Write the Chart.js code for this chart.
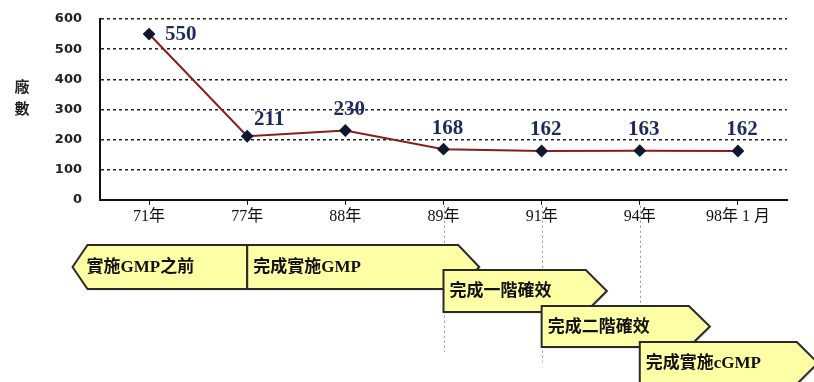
<!DOCTYPE html>
<html>
<head>
<meta charset="utf-8">
<script src="https://cdn.jsdelivr.net/npm/chart.js@4"></script>
<style>
  html, body { margin: 0; padding: 0; background: #fff; }
  #wrap { width: 814px; height: 382px; }
</style>
</head>
<body>
<div id="wrap"><canvas id="chart" width="814" height="382"></canvas></div>
<script>
// data
const years = ["71年", "77年", "88年", "89年", "91年", "94年", "98年 1 月"];
const plantCounts = [550, 211, 230, 168, 162, 163, 162];
const yTicks = [0, 100, 200, 300, 400, 500, 600];
const axisTitle = ["廠", "數"];
// phase banners: label, start index, end index (in category units)
const phaseLabels = ["實施GMP之前", "完成實施GMP", "完成一階確效", "完成二階確效", "完成實施cGMP"];
const phaseStart = [-0.78, 1, 3, 4, 5];
const phaseEnd = [1, 3.15, 4.45, 5.5, 6.6];

const cjkSerif = "'Liberation Serif', 'Noto Sans CJK TC', serif";

// draws value labels, the y title, the guide lines and the phase banners
const extras = {
  id: "extras",
  afterDatasetsDraw(chart) {
    const ctx = chart.ctx;
    const x = chart.scales.x, y = chart.scales.y;
    ctx.save();
    // value labels
    ctx.font = "bold 21px 'Liberation Serif', serif";
    ctx.fillStyle = "#1f2a5c";
    ctx.textBaseline = "middle";
    plantCounts.forEach((v, i) => {
      const px = x.getPixelForValue(i), py = y.getPixelForValue(v);
      if (i === 0) {
        ctx.textAlign = "left";
        ctx.fillText(String(v), px + 16, py + 1);
      } else if (i === 1) {
        ctx.textAlign = "center";
        ctx.fillText(String(v), px + 22, py - 17);
      } else {
        ctx.textAlign = "center";
        ctx.fillText(String(v), px + 4, py - 21);
      }
    });
    ctx.restore();
  },
  afterDraw(chart) {
    const ctx = chart.ctx;
    const x = chart.scales.x, y = chart.scales.y;
    ctx.save();
    // y title, stacked characters
    ctx.font = "bold 15px 'Noto Sans CJK TC', serif";
    ctx.fillStyle = "#222";
    ctx.textAlign = "center";
    ctx.textBaseline = "middle";
    axisTitle.forEach((c, i) => ctx.fillText(c, 22, 86 + i * 22));

    // grey dotted guides below the axis
    ctx.strokeStyle = "#999";
    ctx.lineWidth = 1;
    ctx.setLineDash([2, 3]);
    const guideBottom = [352, 362, 382];
    [3, 4, 5].forEach((idx, k) => {
      const gx = Math.round(x.getPixelForValue(idx)) + 0.5;
      ctx.beginPath();
      ctx.moveTo(gx, y.bottom + 6);
      ctx.lineTo(gx, guideBottom[k]);
      ctx.stroke();
    });
    ctx.setLineDash([]);

    // phase banners
    const rows = [[245, 289], [245, 289], [270, 312], [306, 347], [342, 384]];
    const pos = v => x.getPixelForValue(0) + v * (x.getPixelForValue(1) - x.getPixelForValue(0));
    ctx.font = "bold 17px " + cjkSerif;
    ctx.textAlign = "left";
    ctx.textBaseline = "middle";
    phaseLabels.forEach((label, i) => {
      const [top, bot] = rows[i];
      const mid = (top + bot) / 2;
      const x0 = pos(phaseStart[i]), x1 = pos(phaseEnd[i]);
      const tip = 21;
      ctx.beginPath();
      if (i === 0) {
        ctx.moveTo(x0, mid);
        ctx.lineTo(x0 + 15, top);
        ctx.lineTo(x1, top);
        ctx.lineTo(x1, bot);
        ctx.lineTo(x0 + 15, bot);
      } else {
        ctx.moveTo(x0, top);
        ctx.lineTo(x1, top);
        ctx.lineTo(x1 + tip, mid);
        ctx.lineTo(x1, bot);
        ctx.lineTo(x0, bot);
      }
      ctx.closePath();
      ctx.shadowColor = "rgba(0,0,0,0.25)";
      ctx.shadowOffsetX = 1;
      ctx.shadowOffsetY = 1;
      ctx.shadowBlur = 2;
      ctx.fillStyle = "#ffffa6";
      ctx.fill();
      ctx.shadowColor = "transparent";
      ctx.strokeStyle = "#2a2a2a";
      ctx.lineWidth = 2;
      ctx.stroke();
      ctx.fillStyle = "#111";
      ctx.fillText(label, (i === 0 ? x0 + 14 : x0 + 6), mid + 1);
    });
    ctx.restore();
  }
};

new Chart(document.getElementById("chart"), {
  type: "line",
  data: {
    labels: years,
    datasets: [{
      data: plantCounts,
      borderColor: "#8b1c1c",
      borderWidth: 2,
      pointStyle: "rectRot",
      pointRadius: 5,
      pointBackgroundColor: "#101830",
      pointBorderColor: "#101830",
      tension: 0
    }]
  },
  options: {
    responsive: false,
    animation: false,
    layout: { padding: { left: 0, right: 27, top: 19, bottom: 154 } },
    plugins: { legend: { display: false }, tooltip: { enabled: false } },
    scales: {
      x: {
        offset: true,
        grid: { display: true, drawOnChartArea: false, drawTicks: true, tickLength: 5, color: "#111" },
        border: { display: true, color: "#111", width: 2 },
        ticks: { color: "#111", font: { family: cjkSerif, size: 16 }, padding: 2, maxRotation: 0, autoSkip: false }
      },
      y: {
        min: 0,
        max: 600,
        afterBuildTicks: s => { s.ticks = yTicks.map(v => ({ value: v })); },
        afterFit: s => { s.width = 100; s.paddingTop = 0; s.paddingBottom = 0; },
        grid: { color: "#222", lineWidth: 1.5, drawTicks: false },
        border: { display: true, color: "#111", width: 2, dash: [3, 3] },
        ticks: { color: "#222", font: { family: "'DejaVu Sans', sans-serif", size: 13, weight: "bold" }, padding: 18 }
      }
    }
  },
  plugins: [extras]
});
</script>
</body>
</html>
